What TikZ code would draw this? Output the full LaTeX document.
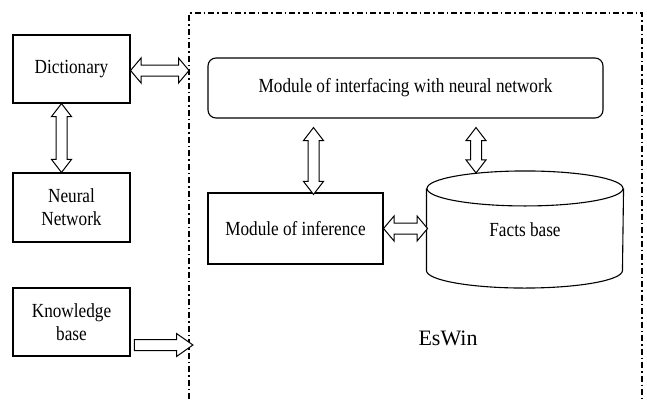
\documentclass[tikz,border=0pt]{standalone}
\usepackage{fontspec}
\setmainfont{Liberation Serif}[FakeStretch=0.86]
\newfontfamily\eswinfont{Liberation Serif}
\usetikzlibrary{shapes.arrows,calc}

\newcommand\DblArrow[3][]{%
  \path let \p1=($(#3)-(#2)$), \n1={veclen(\x1,\y1)}, \n2={atan2(\y1,\x1)} in
    node[ArrowStyle, double arrow, #1, minimum height=\n1, rotate=\n2] at ($(#2)!0.5!(#3)$) {};}

\begin{document}
\begin{tikzpicture}[x=1pt, y=-1pt]
    \tikzstyle{BoxStyle}=[shape = rectangle, draw, line width = 1.1pt, align = center,
                          font = \fontsize{20}{23}\selectfont]
    \tikzstyle{ArrowStyle}=[draw, fill = white, line width = 1pt, inner sep = 5pt,
                            double arrow head extend = 4.5pt, double arrow tip angle = 75]
    \tikzstyle{WideHead}=[double arrow head extend = 7pt, double arrow tip angle = 100]
    \tikzstyle{FrameStyle}=[line width = 2pt, dash pattern = on 6pt off 3pt on 1.5pt off 3pt]
   \useasboundingbox (0,0) rectangle (647,399);
   \draw[FrameStyle] (189,399) -- (189,13) -- (642,13) -- (642,399);
   \coordinate (fr1) at (189,70.5);
   \coordinate (fr2) at (189,345);
   \node[BoxStyle, minimum width = 117, minimum height = 68] (dict)   at (71.5,69)    {Dictionary};
   \node[BoxStyle, minimum width = 117, minimum height = 69] (neural) at (71.5,207.5) {Neural\\Network};
   \node[BoxStyle, minimum width = 117, minimum height = 68] (kb)     at (71.5,322)   {Knowledge\\base};
   \node[BoxStyle, rounded corners = 8pt, minimum width = 395, minimum height = 60] (iface) at (405.5,88)
        {Module of interfacing with neural network};
   \node[BoxStyle, minimum width = 175, minimum height = 71] (inf) at (295.5,228.5) {Module of inference};
   \node[BoxStyle, draw = none, minimum width = 196, minimum height = 116] (facts) at (525,229.5) {Facts base};
   \draw[line width = 1.1pt] ($(facts.north)+(0,17.5)$) ellipse [x radius = 98pt, y radius = 17.5pt];
   \draw[line width = 1.1pt] ($(facts.north west)+(0,17.5)$) -- ($(facts.south west)+(0,-17.5)$)
        arc [start angle = 180, end angle = 360, x radius = 98pt, y radius = 17.5pt]
        -- ($(facts.north east)+(0,17.5)$);
   \node[font = \eswinfont\fontsize{22}{24}\selectfont] (eswin) at (448,338) {EsWin};
   \DblArrow[WideHead]{dict.east |- fr1}{fr1}
   \DblArrow{$(dict.south)+(-10,0)$}{$(neural.north)+(-10,0)$}
   \DblArrow{$(inf.north |- iface.south)+(18,9)$}{$(inf.north)+(18,2)$}
   \DblArrow{$(iface.south -| facts.north)+(-49,9)$}{$(facts.north)+(-49,2)$}
   \DblArrow[WideHead]{inf.east}{$(inf.east)+(44,0)$}
   \path let \p1=($(fr2)-(kb.east |- fr2)$) in
     node[ArrowStyle, single arrow, single arrow head extend = 6pt, single arrow tip angle = 70,
          minimum height = \x1] at ($(kb.east |- fr2)!0.5!(fr2)$) {};
\end{tikzpicture}
\end{document}
